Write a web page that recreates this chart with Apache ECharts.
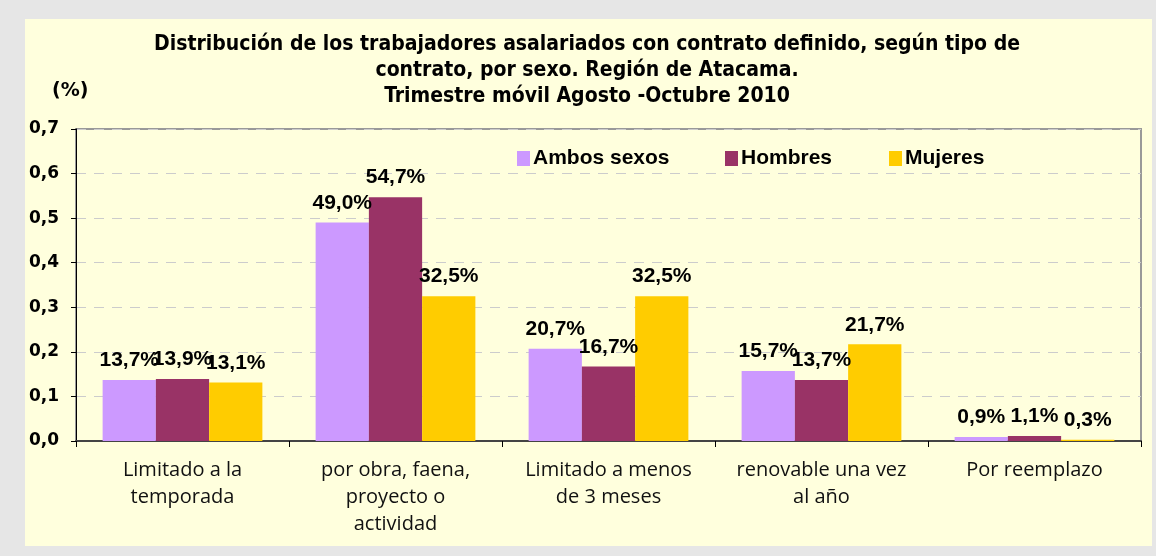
<!DOCTYPE html>
<html>
<head>
<meta charset="utf-8">
<script src="https://cdn.jsdelivr.net/npm/echarts@6/dist/echarts.min.js"></script>
<style>
  html, body { margin: 0; padding: 0; background: #e6e6e6; }
  #chart { width: 1156px; height: 556px; }
</style>
</head>
<body>
<div id="chart"></div>
<script>
// data (fractions, labels show them as %)
const categories = [
  'Limitado a la\ntemporada',
  'por obra, faena,\nproyecto o\nactividad',
  'Limitado a menos\nde 3 meses',
  'renovable una vez\nal año',
  'Por reemplazo'
]
const seriesNames = ['Ambos sexos', 'Hombres', 'Mujeres']
const ambos = [0.137, 0.490, 0.207, 0.157, 0.009]
const hombres = [0.139, 0.547, 0.167, 0.137, 0.011]
const mujeres = [0.131, 0.325, 0.325, 0.217, 0.003]
const colors = ['#cc99ff', '#993366', '#ffcc00']

const titleText = 'Distribución de los trabajadores asalariados con contrato definido, según tipo de\ncontrato, por sexo. Región de Atacama.\nTrimestre móvil Agosto -Octubre 2010'

const chart = echarts.init(document.getElementById('chart'))

const pct = (v) => (v * 100).toFixed(1).replace('.', ',') + '%'

function barSeries(name, values, color) {
  return {
    name: name,
    type: 'bar',
    data: values,
    barGap: 0,
    barCategoryGap: '25%',
    itemStyle: { color: color },
    label: {
      show: true,
      position: 'top',
      distance: 9,
      fontFamily: '"Liberation Sans", Arial, sans-serif',
      fontWeight: 'bold',
      fontSize: 21,
      color: '#000',
      formatter: (p) => pct(p.value),
    },
  }
}

const legendLefts = [512, 720, 884]

const option = {
  animation: false,
  backgroundColor: '#e6e6e6',
  graphic: [
    {
      type: 'rect',
      z: -10,
      shape: { x: 25, y: 19, width: 1127, height: 527 },
      style: { fill: '#ffffdd' },
    },
    {
      type: 'text',
      left: 52,
      top: 82,
      style: {
        text: '(%)',
        font: 'bold 19px "DejaVu Sans", sans-serif',
        fill: '#000',
      },
    },
  ],
  title: {
    text: titleText,
    left: 582,
    textAlign: 'center',
    top: 27,
    textStyle: {
      fontFamily: '"DejaVu Sans Condensed", "DejaVu Sans", sans-serif',
      fontWeight: 'bold',
      fontSize: 21,
      lineHeight: 26,
      color: '#000',
    },
  },
  legend: seriesNames.map((n, i) => ({
    data: [n],
    left: legendLefts[i],
    top: 143,
    itemWidth: 13,
    itemHeight: 15,
    itemGap: 0,
    icon: 'rect',
    textStyle: {
      fontFamily: '"Liberation Sans", Arial, sans-serif',
      fontWeight: 'bold',
      fontSize: 21,
      color: '#000',
      padding: [0, 0, 0, -2],
    },
  })),
  grid: {
    left: 76,
    right: 15,
    top: 129,
    bottom: 115,
    show: true,
    borderColor: '#999',
    borderWidth: 2,
    backgroundColor: 'transparent',
  },
  xAxis: {
    type: 'category',
    data: categories,
    axisLine: { lineStyle: { color: '#444', width: 2 } },
    axisTick: { show: true, length: 6, lineStyle: { color: '#000' } },
    axisLabel: {
      interval: 0,
      margin: 16,
      fontFamily: '"Open Sans", sans-serif',
      fontSize: 20,
      lineHeight: 27,
      color: '#111',
    },
  },
  yAxis: {
    type: 'value',
    min: 0,
    max: 0.7,
    interval: 0.1,
    axisLine: { show: true, lineStyle: { color: '#000', width: 1 } },
    axisTick: { show: true, length: 5, lineStyle: { color: '#000' } },
    splitLine: { lineStyle: { color: '#cccccc', type: [10, 8], width: 1 } },
    axisLabel: {
      margin: 17,
      fontFamily: '"DejaVu Sans", sans-serif',
      fontWeight: 'bold',
      fontSize: 17,
      color: '#000',
      formatter: (v) => v.toFixed(1).replace('.', ','),
    },
  },
  series: [
    barSeries(seriesNames[0], ambos, colors[0]),
    barSeries(seriesNames[1], hombres, colors[1]),
    barSeries(seriesNames[2], mujeres, colors[2]),
  ],
}

chart.setOption(option)
</script>
</body>
</html>
